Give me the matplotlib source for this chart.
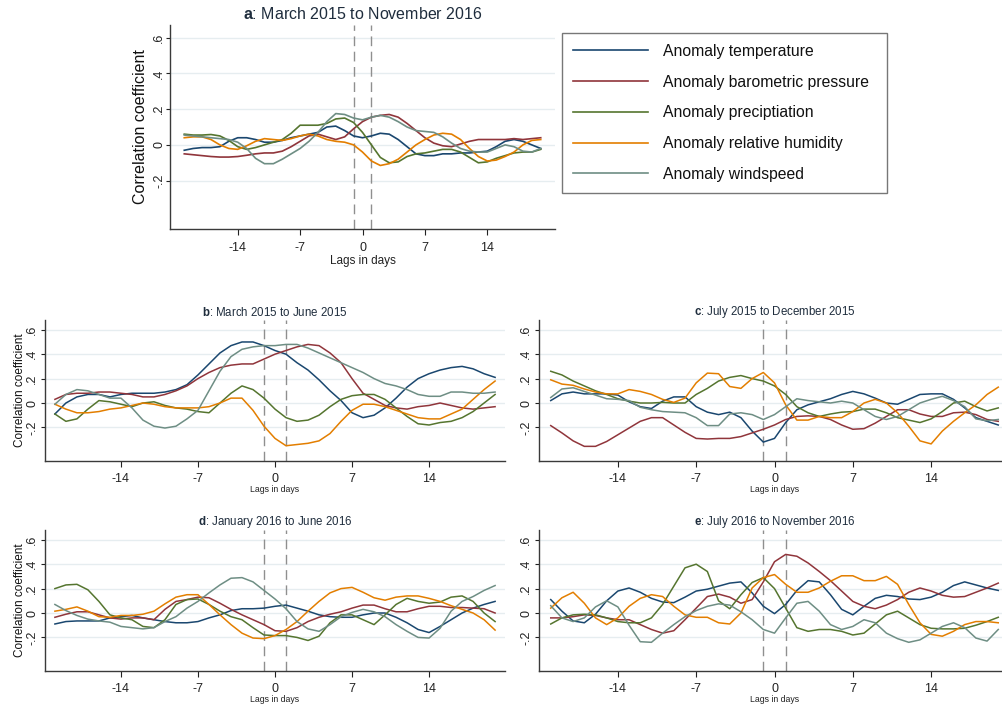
import numpy as np
import matplotlib.pyplot as plt

plt.rcParams['font.family'] = ['Liberation Sans', 'DejaVu Sans']
plt.rcParams['mathtext.fontset'] = 'custom'
plt.rcParams['mathtext.rm'] = 'Liberation Sans'
plt.rcParams['mathtext.bf'] = 'Liberation Sans:bold'
plt.rcParams['axes.unicode_minus'] = False

lags = np.arange(-20, 21)
labels = ['Anomaly temperature', 'Anomaly barometric pressure', 'Anomaly preciptiation',
          'Anomaly relative humidity', 'Anomaly windspeed']
colors = ['#1a476f', '#90353b', '#55752f', '#e37e00', '#6e8e84']

# a: March 2015 to November 2016
a_temp = [-0.03, -0.02, -0.015, -0.015, -0.01, 0.02, 0.04, 0.04, 0.03, 0.015, 0.015, 0.025, 0.04, 0.05,
          0.06, 0.07, 0.1, 0.105, 0.08, 0.05, 0.04, 0.05, 0.065, 0.06, 0.03, -0.01, -0.05, -0.06, -0.06,
          -0.05, -0.05, -0.045, -0.045, -0.04, -0.035, -0.01, 0.02, 0.03, 0.02, 0.0, -0.02]
a_press = [-0.05, -0.055, -0.06, -0.065, -0.068, -0.068, -0.065, -0.058, -0.05, -0.045, -0.045, -0.035,
           -0.01, 0.02, 0.05, 0.06, 0.045, 0.03, 0.045, 0.09, 0.13, 0.155, 0.165, 0.17, 0.155, 0.12, 0.08,
           0.04, 0.01, -0.005, -0.01, 0.005, 0.02, 0.03, 0.03, 0.03, 0.03, 0.035, 0.03, 0.035, 0.04]
a_precip = [0.06, 0.055, 0.055, 0.058, 0.05, 0.025, -0.01, -0.025, -0.015, 0.0, 0.015, 0.03, 0.065, 0.11,
            0.11, 0.11, 0.12, 0.145, 0.15, 0.125, 0.07, 0.0, -0.07, -0.1, -0.095, -0.065, -0.05, -0.045,
            -0.035, -0.025, -0.025, -0.04, -0.07, -0.1, -0.095, -0.075, -0.06, -0.045, -0.04, -0.04, -0.025]
a_humid = [0.04, 0.045, 0.045, 0.03, 0.0, -0.02, -0.025, -0.005, 0.02, 0.035, 0.03, 0.025, 0.035, 0.05,
           0.06, 0.05, 0.03, 0.02, 0.015, 0.0, -0.04, -0.09, -0.115, -0.105, -0.08, -0.04, 0.0, 0.03, 0.055,
           0.065, 0.06, 0.03, -0.02, -0.065, -0.09, -0.085, -0.065, -0.04, 0.0, 0.025, 0.03]
a_wind = [0.055, 0.05, 0.045, 0.04, 0.035, 0.03, 0.015, -0.02, -0.075, -0.105, -0.105, -0.08, -0.05, -0.02,
          0.02, 0.07, 0.13, 0.175, 0.17, 0.15, 0.14, 0.155, 0.165, 0.155, 0.13, 0.1, 0.08, 0.075, 0.07,
          0.045, 0.01, -0.02, -0.035, -0.04, -0.04, -0.02, 0.0, -0.01, -0.035, -0.04, -0.02]

# b: March 2015 to June 2015
b_temp = [-0.09, 0.0, 0.05, 0.07, 0.07, 0.05, 0.07, 0.08, 0.08, 0.08, 0.09, 0.11, 0.15, 0.23, 0.32, 0.41,
          0.47, 0.5, 0.5, 0.47, 0.43, 0.4, 0.33, 0.27, 0.19, 0.1, 0.02, -0.08, -0.12, -0.1, -0.04, 0.04,
          0.13, 0.2, 0.24, 0.27, 0.29, 0.3, 0.28, 0.24, 0.21]
b_press = [0.03, 0.07, 0.08, 0.08, 0.09, 0.09, 0.08, 0.07, 0.05, 0.05, 0.07, 0.1, 0.14, 0.2, 0.25, 0.29,
           0.31, 0.32, 0.32, 0.36, 0.4, 0.43, 0.46, 0.48, 0.47, 0.41, 0.33, 0.2, 0.08, 0.03, -0.02, -0.04,
           -0.05, -0.03, -0.02, 0.0, -0.02, -0.04, -0.05, -0.04, -0.03]
b_precip = [-0.09, -0.15, -0.13, -0.05, 0.02, 0.01, -0.01, -0.03, 0.0, 0.01, -0.02, -0.04, -0.05, -0.07,
            -0.08, 0.0, 0.08, 0.14, 0.11, 0.04, -0.05, -0.12, -0.15, -0.14, -0.1, -0.03, 0.03, 0.06, 0.07,
            0.07, 0.03, -0.04, -0.11, -0.17, -0.18, -0.16, -0.15, -0.12, -0.07, 0.0, 0.07]
b_humid = [-0.01, -0.05, -0.08, -0.08, -0.07, -0.05, -0.04, -0.02, 0.0, -0.01, -0.03, -0.04, -0.04, -0.04,
           -0.03, 0.0, 0.04, 0.04, -0.06, -0.19, -0.29, -0.35, -0.34, -0.33, -0.31, -0.25, -0.15, -0.06,
           -0.01, -0.01, -0.03, -0.06, -0.09, -0.12, -0.13, -0.13, -0.09, -0.05, 0.03, 0.11, 0.18]
b_wind = [-0.01, 0.07, 0.11, 0.1, 0.07, 0.04, 0.04, -0.04, -0.14, -0.19, -0.205, -0.19, -0.13, -0.06, 0.1,
          0.26, 0.38, 0.44, 0.46, 0.47, 0.47, 0.48, 0.48, 0.45, 0.41, 0.37, 0.33, 0.29, 0.25, 0.2, 0.16,
          0.14, 0.11, 0.07, 0.055, 0.055, 0.09, 0.09, 0.08, 0.08, 0.09]

# c: July 2015 to December 2015
c_temp = [0.02, 0.075, 0.09, 0.075, 0.075, 0.075, 0.065, 0.01, -0.03, -0.045, 0.015, 0.05, 0.05, -0.03,
          -0.075, -0.095, -0.075, -0.12, -0.23, -0.32, -0.29, -0.16, -0.055, -0.015, 0.01, 0.035, 0.07,
          0.095, 0.075, 0.04, 0.0, -0.01, 0.03, 0.07, 0.075, 0.075, 0.03, -0.04, -0.12, -0.15, -0.18]
c_press = [-0.185, -0.245, -0.31, -0.355, -0.355, -0.315, -0.26, -0.205, -0.15, -0.12, -0.12, -0.18,
           -0.24, -0.29, -0.295, -0.29, -0.29, -0.275, -0.245, -0.215, -0.18, -0.135, -0.11, -0.105,
           -0.11, -0.135, -0.18, -0.215, -0.21, -0.165, -0.11, -0.055, -0.055, -0.09, -0.11, -0.11,
           -0.08, -0.075, -0.095, -0.135, -0.15]
c_precip = [0.26, 0.23, 0.18, 0.14, 0.1, 0.07, 0.035, 0.015, 0.0, 0.0, 0.005, 0.0, 0.0, 0.07, 0.12, 0.18,
            0.21, 0.225, 0.2, 0.18, 0.14, 0.07, -0.03, -0.08, -0.11, -0.09, -0.075, -0.07, -0.05, -0.05,
            -0.08, -0.12, -0.14, -0.16, -0.13, -0.07, 0.0, 0.015, -0.03, -0.065, -0.04]
c_humid = [0.19, 0.155, 0.145, 0.115, 0.09, 0.075, 0.075, 0.11, 0.095, 0.07, 0.03, 0.005, 0.04, 0.165,
           0.245, 0.24, 0.135, 0.12, 0.2, 0.25, 0.165, -0.015, -0.14, -0.14, -0.11, -0.12, -0.12, -0.07,
           0.0, 0.03, 0.0, -0.08, -0.19, -0.31, -0.335, -0.23, -0.15, -0.08, -0.015, 0.07, 0.13]
c_wind = [0.045, 0.115, 0.125, 0.095, 0.065, 0.035, 0.03, 0.02, -0.035, -0.055, -0.07, -0.075, -0.08,
          -0.12, -0.185, -0.185, -0.09, -0.08, -0.095, -0.135, -0.095, -0.03, 0.035, 0.02, 0.01, 0.0,
          0.015, 0.0, -0.055, -0.11, -0.135, -0.11, -0.055, 0.0, 0.03, 0.055, 0.02, -0.03, -0.13, -0.145,
          -0.135]

# d: January 2016 to June 2016
d_temp = [-0.09, -0.07, -0.065, -0.065, -0.065, -0.04, -0.03, -0.02, -0.04, -0.055, -0.07, -0.08, -0.08,
          -0.07, -0.04, -0.015, 0.02, 0.035, 0.035, 0.04, 0.055, 0.065, 0.04, 0.015, -0.015, -0.03,
          -0.035, -0.035, -0.015, 0.0, 0.0, -0.035, -0.08, -0.135, -0.16, -0.11, -0.055, 0.0, 0.04, 0.07,
          0.095]
d_press = [-0.035, -0.01, 0.01, 0.01, -0.015, -0.04, -0.05, -0.04, -0.04, -0.055, 0.03, 0.095, 0.11, 0.13,
           0.125, 0.08, 0.03, -0.015, -0.055, -0.095, -0.145, -0.15, -0.12, -0.07, -0.035, -0.01, 0.01,
           0.04, 0.065, 0.065, 0.035, 0.01, 0.01, 0.035, 0.055, 0.055, 0.045, 0.045, 0.04, 0.035, 0.0]
d_precip = [0.2, 0.23, 0.235, 0.19, 0.095, -0.015, -0.04, -0.055, -0.11, -0.12, -0.055, 0.07, 0.11, 0.115,
            0.07, 0.015, -0.03, -0.055, -0.12, -0.18, -0.185, -0.185, -0.2, -0.225, -0.19, -0.08, -0.015,
            -0.015, -0.055, -0.095, -0.015, 0.07, 0.12, 0.095, 0.08, 0.09, 0.13, 0.14, 0.095, 0.0, -0.07]
d_humid = [0.015, 0.03, 0.05, 0.015, -0.03, -0.035, -0.02, -0.02, -0.01, 0.015, 0.075, 0.13, 0.15, 0.15,
           0.07, -0.015, -0.095, -0.165, -0.205, -0.21, -0.185, -0.135, -0.07, 0.015, 0.095, 0.165, 0.2,
           0.21, 0.17, 0.125, 0.105, 0.13, 0.14, 0.14, 0.12, 0.095, 0.06, 0.03, 0.0, -0.055, -0.14]
d_wind = [0.07, 0.02, -0.02, -0.05, -0.065, -0.075, -0.11, -0.12, -0.13, -0.12, -0.07, -0.03, 0.04, 0.095,
          0.165, 0.23, 0.285, 0.29, 0.255, 0.185, 0.115, 0.035, -0.07, -0.13, -0.15, -0.095, -0.03, 0.005,
          0.03, 0.01, -0.03, -0.095, -0.15, -0.2, -0.205, -0.125, 0.015, 0.095, 0.135, 0.185, 0.225]

# e: July 2016 to November 2016
e_temp = [0.11, 0.015, -0.065, -0.08, -0.01, 0.1, 0.18, 0.205, 0.17, 0.12, 0.09, 0.085, 0.13, 0.18, 0.195,
          0.22, 0.245, 0.255, 0.165, 0.055, -0.005, 0.07, 0.185, 0.265, 0.255, 0.15, 0.03, -0.015, 0.055,
          0.12, 0.145, 0.135, 0.115, 0.11, 0.13, 0.17, 0.225, 0.255, 0.23, 0.205, 0.185]
e_press = [-0.04, -0.04, -0.03, -0.015, -0.02, -0.04, -0.055, -0.055, -0.095, -0.135, -0.165, -0.145,
           -0.055, 0.04, 0.135, 0.155, 0.13, 0.08, 0.11, 0.255, 0.42, 0.48, 0.465, 0.41, 0.34, 0.265, 0.18,
           0.095, 0.055, 0.035, 0.065, 0.11, 0.17, 0.205, 0.18, 0.145, 0.13, 0.135, 0.17, 0.205, 0.245]
e_precip = [-0.09, -0.04, -0.015, -0.01, -0.015, -0.04, -0.07, -0.08, -0.08, -0.04, 0.07, 0.22, 0.37, 0.4,
            0.34, 0.1, 0.035, 0.15, 0.25, 0.29, 0.2, 0.04, -0.12, -0.15, -0.135, -0.135, -0.15, -0.18,
            -0.165, -0.09, -0.015, 0.015, -0.04, -0.095, -0.125, -0.13, -0.13, -0.125, -0.1, -0.07, -0.035]
e_humid = [0.04, 0.125, 0.17, 0.08, -0.04, -0.095, -0.04, 0.055, 0.12, 0.15, 0.135, 0.055, -0.015, -0.035,
           -0.035, -0.08, -0.09, 0.0, 0.205, 0.29, 0.315, 0.235, 0.17, 0.17, 0.205, 0.26, 0.305, 0.305,
           0.265, 0.265, 0.3, 0.235, 0.07, -0.08, -0.175, -0.19, -0.15, -0.095, -0.07, -0.07, -0.08]
e_wind = [0.06, -0.04, -0.07, -0.04, 0.05, 0.1, 0.05, -0.1, -0.235, -0.24, -0.165, -0.095, -0.03, 0.02,
          0.055, 0.075, 0.065, 0.01, -0.055, -0.135, -0.165, -0.04, 0.08, 0.095, 0.015, -0.095, -0.135,
          -0.11, -0.055, -0.08, -0.165, -0.21, -0.24, -0.22, -0.165, -0.11, -0.08, -0.12, -0.205, -0.23,
          -0.135]

W, H = 1002, 706
yticks = [-0.2, 0, 0.2, 0.4, 0.6]
yticklabels = ['-.2', '0', '.2', '.4', '.6']
xticks = [-14, -7, 0, 7, 14]


def panel(rect, series, letter, period, xlim, ylim, big, ylabel=True):
    # rect is (left, top, right, bottom) in pixels of the final image
    left, top, right, bottom = rect
    ax = fig.add_axes([left / W, 1 - bottom / H, (right - left) / W, (bottom - top) / H])
    for vals, c, lab in zip(series, colors, labels):
        ax.plot(lags, vals, color=c, lw=1.2 if big else 1.1, label=lab)
    for v in (-1, 1):
        ax.axvline(v, color='#8f8f8f', lw=1, dashes=(7, 4), zorder=1)
    ax.set_xlim(*xlim)
    ax.set_ylim(*ylim)
    ax.set_yticks(yticks)
    ax.set_yticklabels(yticklabels, rotation=90, va='center')
    ax.set_xticks(xticks)
    ax.grid(axis='y', color='#e6edf0', lw=1)
    ax.set_axisbelow(True)
    for s in ('top', 'right'):
        ax.spines[s].set_visible(False)
    for s in ('left', 'bottom'):
        ax.spines[s].set_color('#3a3a3a')
        ax.spines[s].set_linewidth(1)
    ax.tick_params(axis='both', labelsize=9, colors='#222222', width=0.8)
    ax.tick_params(axis='x', length=4.3, pad=5 if big else 4)
    ax.tick_params(axis='y', length=3, pad=0.5 if big else 2)
    ax.set_xlabel('Lags in days', fontsize=8.5 if big else 6.3, labelpad=1 if big else 0, color='#222222')
    if ylabel:
        ax.set_ylabel('Correlation coefficient', fontsize=11.5 if big else 8.5,
                      labelpad=4 if big else 0, color='#111111')
    ax.set_title(r'$\mathbf{' + letter + '}$: ' + period, fontsize=11.5 if big else 8.3,
                 color='#1f2d3d', pad=4 if big else 3)
    return ax


fig = plt.figure(figsize=(W / 100, H / 100), dpi=100)

ax_a = panel((170, 25, 555, 229), [a_temp, a_press, a_precip, a_humid, a_wind], 'a',
             'March 2015 to November 2016', (-21.6, 21.6), (-0.47, 0.67), True)
panel((45, 320, 505, 461), [b_temp, b_press, b_precip, b_humid, b_wind], 'b',
      'March 2015 to June 2015', (-20.9, 20.9), (-0.475, 0.68), False)
panel((539, 320, 1010, 461), [c_temp, c_press, c_precip, c_humid, c_wind], 'c',
      'July 2015 to December 2015', (-21.05, 21.05), (-0.475, 0.68), False, ylabel=False)
panel((45, 530, 505, 671), [d_temp, d_press, d_precip, d_humid, d_wind], 'd',
      'January 2016 to June 2016', (-20.9, 20.9), (-0.475, 0.68), False)
panel((539, 530, 1010, 671), [e_temp, e_press, e_precip, e_humid, e_wind], 'e',
      'July 2016 to November 2016', (-21.05, 21.05), (-0.475, 0.68), False, ylabel=False)

handles, labs = ax_a.get_legend_handles_labels()
leg = fig.legend(handles, labs, loc='upper left', mode='expand',
                 bbox_to_anchor=(562 / W, 1 - 192 / H, 325 / W, 159 / H),
                 fontsize=11.3, handlelength=4.8, handletextpad=0.95, labelspacing=1.0,
                 borderpad=0.7, borderaxespad=0, frameon=True, fancybox=False)
leg.get_frame().set_edgecolor('#555555')
leg.get_frame().set_linewidth(1)
for t in leg.get_texts():
    t.set_color('#111111')

fig.savefig('out.png', dpi=100)
